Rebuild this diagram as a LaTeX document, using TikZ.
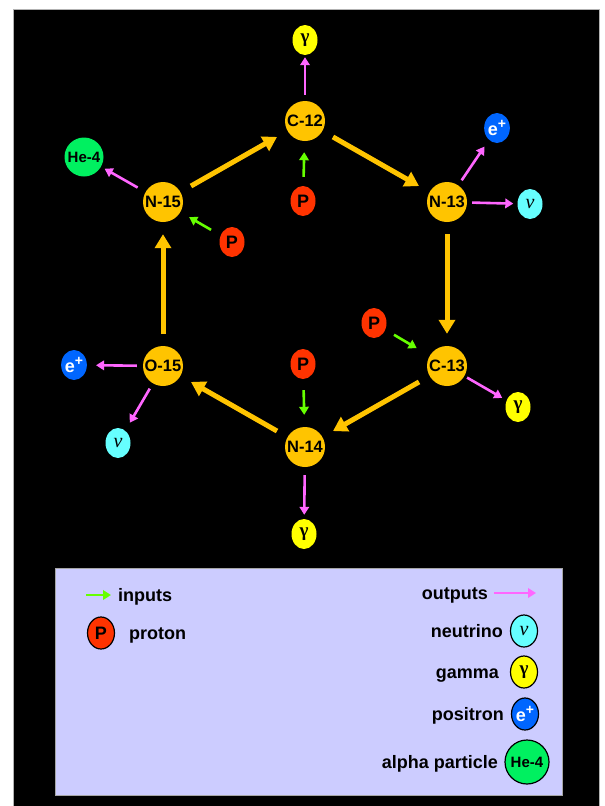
\documentclass[tikz,border=0pt]{standalone}
\usepackage{fontspec}
\setmainfont{Liberation Sans}
\newfontfamily\greekfont{Liberation Serif}
\usetikzlibrary{shapes.geometric,arrows.meta}
\definecolor{nucorange}{HTML}{FFC400}
\definecolor{protred}{HTML}{FF3300}
\definecolor{gamyel}{HTML}{FFFF00}
\definecolor{neucyan}{HTML}{66FFFF}
\definecolor{posblue}{HTML}{0066FF}
\definecolor{hegreen}{HTML}{00F060}
\definecolor{pinkarr}{HTML}{FF66FF}
\definecolor{greenarr}{HTML}{66FF00}
\definecolor{legfill}{HTML}{CCCCFF}
\newcommand{\gam}{{\greekfont\bfseries\fontsize{19}{19}\selectfont γ}}
\newcommand{\neut}{{\greekfont\itshape\fontsize{20}{20}\selectfont ν}}
\newcommand{\posi}{{\color{white}\bfseries\fontsize{18}{18}\selectfont e\raisebox{0.42em}{\fontsize{14}{14}\selectfont +}}}
\begin{document}
\begin{tikzpicture}[x=1pt,y=-1pt,
  nuc/.style={circle, fill=nucorange, minimum size=40pt, inner sep=0pt,
    font=\bfseries\fontsize{16.5}{16.5}\selectfont},
  partic/.style={ellipse, minimum width=25pt, minimum height=30pt, inner sep=0pt},
  protst/.style={partic, fill=protred, font=\bfseries\fontsize{18}{18}\selectfont},
  gamst/.style={partic, fill=gamyel},
  neust/.style={partic, fill=neucyan},
  posst/.style={partic, fill=posblue},
  hest/.style={circle, fill=hegreen, minimum size=39pt, inner sep=0pt,
    font=\bfseries\fontsize{15}{15}\selectfont},
  legitem/.style={draw=black, line width=1.2pt},
  lab/.style={inner sep=0pt, font=\bfseries\fontsize{18}{18}\selectfont, yshift=-4pt},
  bigarr/.style={draw=nucorange, line width=5pt, -{Triangle[length=14pt,width=16pt]},
    shorten >=12pt, shorten <=12pt},
  outarr/.style={draw=pinkarr, line width=2.6pt, -{Triangle[length=8pt,width=9.5pt]}},
  inarr/.style={draw=greenarr, line width=2.6pt, -{Triangle[length=8pt,width=9.5pt]}}
]
\useasboundingbox (0,0) rectangle (605,806);
\fill[white] (0,0) rectangle (605,806);
\draw[draw=gray!60, line width=1pt, fill=black] (13,9.5) rectangle (599,815);

% nuclei
\node[nuc] (C12) at (305,121) {C-12};
\node[nuc] (N13) at (447,202) {N-13};
\node[nuc] (C13) at (447,366) {C-13};
\node[nuc] (N14) at (305,447) {N-14};
\node[nuc] (O15) at (163,366) {O-15};
\node[nuc] (N15) at (163,202) {N-15};

% particles
\node[gamst] (g1) at (305,40) {\gam};
\node[protst] (p1) at (303,201) {P};
\node[hest] (he1) at (84,157) {He-4};
\node[protst] (p2) at (232,242) {P};
\node[posst] (e1) at (497,128) {\posi};
\node[neust] (nu1) at (530,204) {\neut};
\node[protst] (p3) at (374,323) {P};
\node[gamst] (g2) at (518,407) {\gam};
\node[protst] (p4) at (303,364) {P};
\node[gamst] (g3) at (304,534) {\gam};
\node[posst] (e2) at (74,365) {\posi};
\node[neust] (nu2) at (118,443) {\neut};

% cycle
\draw[bigarr] (N15) -- (C12);
\draw[bigarr] (C12) -- (N13);
\draw[bigarr] (N13) -- (C13);
\draw[bigarr] (C13) -- (N14);
\draw[bigarr] (N14) -- (O15);
\draw[bigarr] (O15) -- (N15);

% inputs
\draw[inarr, shorten <=9pt, shorten >=11pt] (p1) -- (C12);
\draw[inarr, shorten <=11pt, shorten >=10pt] (p2) -- (N15);
\draw[inarr, shorten <=10pt, shorten >=15pt] (p3) -- (C13);
\draw[inarr, shorten <=11pt, shorten >=12pt] (p4) -- (N14);

% outputs
\draw[outarr, shorten <=6pt, shorten >=2pt] (C12) -- (g1);
\draw[outarr, shorten <=9pt, shorten >=4pt] (N15) -- (he1);
\draw[outarr, shorten <=6pt, shorten >=8pt] (N13) -- (e1);
\draw[outarr, shorten <=5pt, shorten >=4pt] (N13) -- (nu1);
\draw[outarr, shorten <=3pt, shorten >=5pt] (C13) -- (g2);
\draw[outarr, shorten <=8pt, shorten >=4pt] (N14) -- (g3);
\draw[outarr, shorten <=6pt, shorten >=9pt] (O15) -- (e2);
\draw[outarr, shorten <=6pt, shorten >=9pt] (O15) -- (nu2);

% legend
\draw[draw=gray!70, line width=0.8pt, fill=legfill] (55,568) rectangle (562,795);
\coordinate (li1) at (86,595);
\coordinate (li2) at (111,595);
\draw[inarr] (li1) -- (li2);
\node[lab, anchor=mid west] (tin) at (118,595) {inputs};
\node[protst, legitem, minimum width=27pt, minimum height=32pt] (lp) at (101,633) {P};
\node[lab, anchor=mid west] (tpr) at (129,633) {proton};
\node[lab, anchor=mid east] (tout) at (488,593) {outputs};
\coordinate (lo1) at (494,593);
\coordinate (lo2) at (536,593);
\draw[outarr] (lo1) -- (lo2);
\node[neust, legitem, minimum width=27pt, minimum height=32pt] (lnu) at (524,631) {\neut};
\node[lab, anchor=mid east] (tnu) at (503,631) {neutrino};
\node[gamst, legitem, minimum width=27pt, minimum height=32pt] (lg) at (524,672) {\gam};
\node[lab, anchor=mid east] (tg) at (499,672) {gamma};
\node[posst, legitem, minimum width=27pt, minimum height=32pt] (le) at (525,714) {\posi};
\node[lab, anchor=mid east] (te) at (504,714) {positron};
\node[hest, legitem, minimum size=44pt] (lhe) at (527,762) {He-4};
\node[lab, anchor=mid east] (tal) at (498,762) {alpha particle};
\end{tikzpicture}
\end{document}
